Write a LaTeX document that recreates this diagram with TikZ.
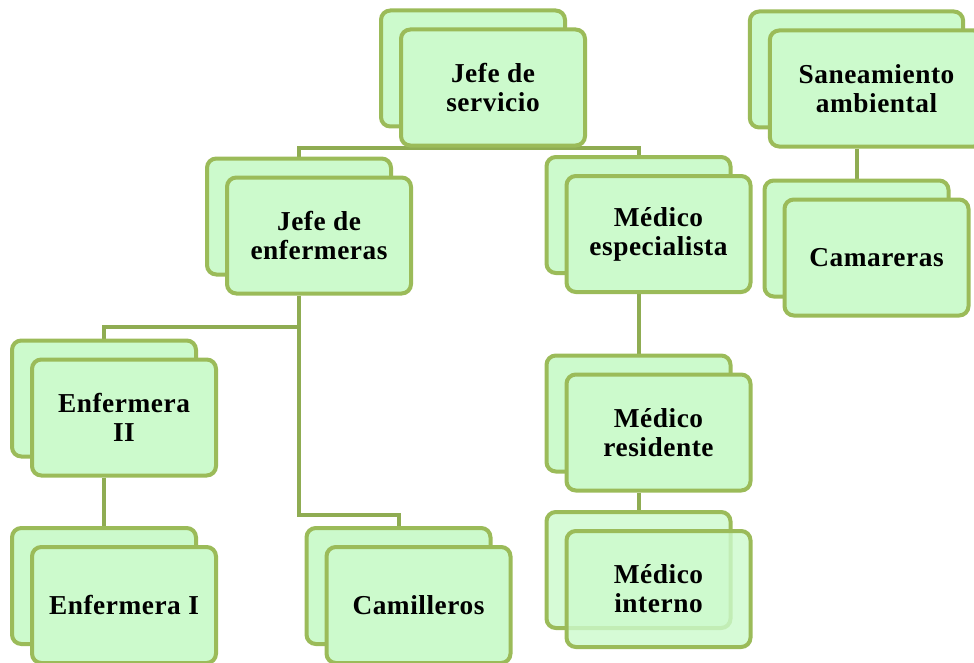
\documentclass[tikz,border=0pt]{standalone}
\usepackage{fontspec}
\setmainfont{Liberation Serif}
\usetikzlibrary{shadows,backgrounds}

\definecolor{boxfill}{HTML}{CCFACC}
\definecolor{boxline}{HTML}{9BBB59}

\tikzset{
  unit/.style={draw=boxline, fill=boxfill, line width=3pt, rounded corners=7pt,
    minimum width=138pt, minimum height=87pt, align=center, inner sep=2pt,
    font=\bfseries\addfontfeature{LetterSpace=2}\fontsize{20.5}{21.75}\selectfont,
    copy shadow={shadow xshift=-15pt, shadow yshift=14.25pt,
      draw=boxline, fill=boxfill, line width=3pt}},
  link/.style={draw=boxline!92!black, line width=3pt}
}

\begin{document}
\begin{tikzpicture}[x=0.75pt, y=0.75pt]
\useasboundingbox (0,0) rectangle (974,662);

% Top level
\node[unit] (serv) at (493,574.5) {Jefe de\\servicio};
\node[unit, minimum width=160pt] (san) at (876.5,573.5) {Saneamiento\\ambiental};

% Second level
\node[unit] (enf) at (319,426.5) {Jefe de\\enfermeras};
\node[unit] (esp) at (658.5,428) {Médico\\especialista};
\node[unit] (camar) at (876.5,404.5) {Camareras};

% Third level
\node[unit] (enf2) at (124,244.5) {Enfermera\\II};
\node[unit] (res) at (658.5,229.5) {Médico\\residente};

% Bottom level
\node[unit] (enf1) at (124,57) {Enfermera I};
\node[unit] (cami) at (418.5,57) {Camilleros};
\node[unit, fill opacity=0.8, text opacity=1] (int) at (658.5,73) {Médico\\interno};

% Anchors on the back boxes
\foreach \n in {enf,esp,camar,enf2,res,enf1,cami,int}
  \coordinate (\n-top) at ([shift={(-20,19)}]\n.north);
\foreach \n in {enf,esp,san,enf2,res}
  \coordinate (\n-bot) at ([shift={(-20,0)}]\n.south);

% Connectors
\begin{scope}[on background layer]
\draw[link] (enf-top) |- (serv.south) -| (esp-top);
\draw[link] (enf-bot) -- ++(0,-31) -| (enf2-top);
\draw[link] (enf-bot) -- ++(0,-219) -| (cami-top);
\draw[link] (enf2-bot) -- (enf1-top);
\draw[link] (esp-bot) -- (res-top);
\draw[link] (res-bot) -- (int-top);
\draw[link] (san-bot) -- (camar-top);
\end{scope}

\end{tikzpicture}
\end{document}
